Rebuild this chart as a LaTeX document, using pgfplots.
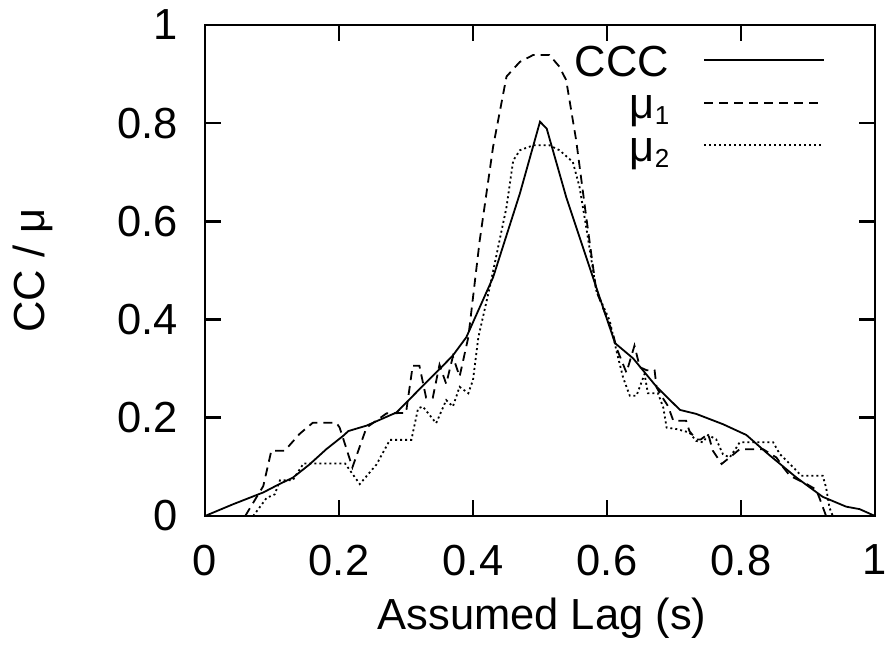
\documentclass[border=0pt]{standalone}
\usepackage{fontspec}
\setmainfont{Liberation Sans}
\usepackage{pgfplots}
\pgfplotsset{compat=1.18}
\begin{document}
\fontsize{21.75}{26}\selectfont
\begin{tikzpicture}
\useasboundingbox (0,0) rectangle (444pt,323.5pt);
\begin{axis}[
  at={(102.5pt,65.5pt)}, anchor=south west,
  scale only axis, width=335pt, height=245.5pt,
  xmin=0, xmax=1, ymin=0, ymax=1,
  xtick={0,0.2,0.4,0.6,0.8,1}, ytick={0,0.2,0.4,0.6,0.8,1},
  /pgf/number format/assume math mode=true,
  /pgf/number format/fixed,
  tick align=inside,
  major tick length=8pt,
  axis line style={line width=1.3pt},
  every tick/.style={black, line width=1.3pt},
  xticklabel style={yshift=-7pt},
  yticklabel style={xshift=-6pt},
  xlabel={Assumed Lag (s)}, ylabel={CC / μ},
  every axis x label/.style={at={(axis description cs:0.503,-0.208)}, anchor=center},
  every axis y label/.style={at={(axis description cs:-0.257,0.5)}, anchor=center, rotate=90},
  legend cell align=right, legend plot pos=right,
  legend style={at={(0.926,0.961)}, anchor=north east, draw=none, fill=none, inner sep=0pt, column sep=17pt,
    nodes={inner sep=0pt, text height=15.75pt, text depth=5.5pt}},
  legend image code/.code={\draw[#1] (0pt,2.75pt) -- (60pt,2.75pt);},
]
\addplot[black, line width=0.9pt] coordinates {
(0,0) (0.042,0.024) (0.087,0.048) (0.111,0.065) (0.131,0.078) (0.156,0.105)
(0.181,0.136) (0.206,0.163) (0.214,0.173) (0.241,0.184) (0.266,0.199) (0.286,0.211)
(0.325,0.265) (0.350,0.299) (0.370,0.327) (0.390,0.364) (0.430,0.486) (0.470,0.657)
(0.500,0.803) (0.510,0.789) (0.539,0.650) (0.579,0.486) (0.612,0.352) (0.639,0.321)
(0.674,0.263) (0.709,0.216) (0.733,0.208) (0.773,0.187) (0.808,0.165) (0.838,0.129)
(0.883,0.078) (0.922,0.039) (0.957,0.019) (0.977,0.014) (1.0,0.0)
};
\addlegendentry{CCC}
\addplot[black, line width=0.9pt, dash pattern=on 4.5pt off 3pt] coordinates {
(0.060,0) (0.087,0.061) (0.099,0.133) (0.119,0.133) (0.141,0.167) (0.161,0.190)
(0.196,0.190) (0.201,0.180) (0.220,0.099) (0.241,0.180) (0.271,0.209) (0.300,0.210)
(0.310,0.306) (0.320,0.306) (0.330,0.241) (0.340,0.241) (0.350,0.308) (0.360,0.269)
(0.370,0.325) (0.380,0.284) (0.393,0.364) (0.410,0.561) (0.430,0.752) (0.450,0.895)
(0.470,0.925) (0.490,0.939) (0.514,0.939) (0.529,0.915) (0.539,0.888) (0.554,0.765)
(0.569,0.609) (0.584,0.459) (0.609,0.371) (0.614,0.343) (0.629,0.292) (0.641,0.347)
(0.649,0.303) (0.659,0.297) (0.671,0.297) (0.674,0.262) (0.681,0.245) (0.691,0.224)
(0.699,0.194) (0.718,0.194) (0.723,0.173) (0.733,0.156) (0.740,0.156) (0.751,0.167)
(0.758,0.133) (0.771,0.106) (0.783,0.119) (0.798,0.136) (0.833,0.136) (0.853,0.119)
(0.863,0.099) (0.873,0.082) (0.898,0.065) (0.912,0.054) (0.917,0.037) (0.927,0)
};
\addlegendentry{μ\raisebox{-3pt}{\fontsize{13}{13}\selectfont 1}}
\addplot[black, line width=0.9pt, dash pattern=on 1pt off 1.5pt] coordinates {
(0.072,0) (0.092,0.037) (0.104,0.044) (0.112,0.073) (0.131,0.073) (0.147,0.107)
(0.209,0.107) (0.231,0.065) (0.256,0.105) (0.276,0.155) (0.308,0.155) (0.318,0.219)
(0.325,0.223) (0.345,0.189) (0.360,0.236) (0.370,0.223) (0.380,0.263) (0.393,0.250)
(0.400,0.277) (0.408,0.364) (0.425,0.466) (0.450,0.629) (0.460,0.724) (0.470,0.745)
(0.490,0.755) (0.514,0.755) (0.529,0.745) (0.549,0.721) (0.559,0.670) (0.569,0.588)
(0.584,0.459) (0.604,0.398) (0.614,0.337) (0.624,0.282) (0.634,0.245) (0.644,0.245)
(0.656,0.289) (0.661,0.250) (0.676,0.250) (0.684,0.221) (0.689,0.180) (0.704,0.177)
(0.723,0.170) (0.733,0.153) (0.743,0.150) (0.751,0.165) (0.763,0.156) (0.773,0.126)
(0.783,0.119) (0.793,0.139) (0.798,0.150) (0.848,0.150) (0.858,0.126) (0.873,0.106)
(0.890,0.082) (0.922,0.082) (0.927,0.058) (0.932,0.017) (0.937,0)
};
\addlegendentry{μ\raisebox{-3pt}{\fontsize{13}{13}\selectfont 2}}
\end{axis}
\end{tikzpicture}
\end{document}
